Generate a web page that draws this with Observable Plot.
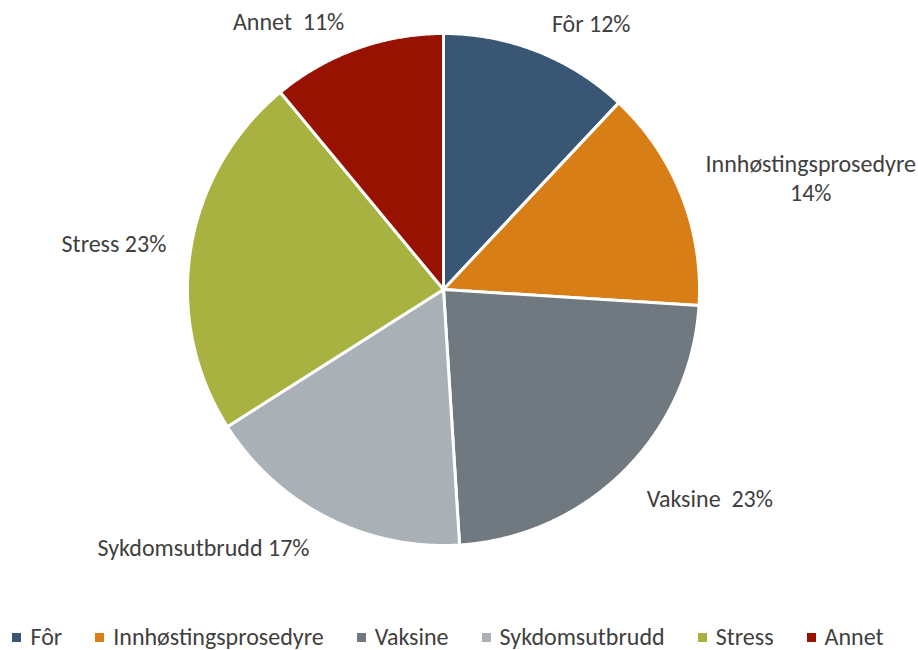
<!DOCTYPE html>
<html><head><meta charset="utf-8">
<script src="https://cdn.jsdelivr.net/npm/d3@7"></script>
<script src="https://cdn.jsdelivr.net/npm/@observablehq/plot@0.6"></script>
<style>
body{margin:0;background:#fff;font-family:Carlito,Calibri,Lato,sans-serif;width:918px;}
svg text{white-space:pre;}
#legend{display:flex;justify-content:center;gap:33px;height:34px;line-height:34px;font-size:24px;color:#404040;padding-right:22px;}
#legend .item{display:flex;align-items:center;white-space:nowrap;}
#legend .sw{width:9px;height:9px;margin-right:9px;display:inline-block;}
</style></head><body><div id="chart"></div><div id="legend"></div>
<script>
const categories = ["Fôr","Innhøstingsprosedyre","Vaksine","Sykdomsutbrudd","Stress","Annet"];
const shares = [12,14,23,17,23,11];
const labels = ["Fôr 12%","Innhøstingsprosedyre\n14%","Vaksine  23%","Sykdomsutbrudd 17%","Stress 23%","Annet  11%"];
const colors = ["#395675","#d77e17","#707880","#a9b0b6","#a7b240","#971200"];
// label layout (angle clockwise from top in degrees, radius as fraction of pie radius)
const labelAngle = [29,73,128,223,278,330];
const labelRadius = [1.19,1.5,1.32,1.375,1.30,1.21];

const total = d3.sum(shares);
const ends = d3.cumsum(shares);
const pts = [];
categories.forEach((name,i)=>{
  const a0 = (ends[i]-shares[i])/total*2*Math.PI, a1 = ends[i]/total*2*Math.PI;
  const n = Math.max(2, Math.ceil((a1-a0)/0.005));
  pts.push({name,x:0,y:0});
  for(let k=0;k<=n;k++){const a=a0+(a1-a0)*k/n; pts.push({name,x:Math.sin(a),y:Math.cos(a)});}
  pts.push({name,x:0,y:0});
});
const labs = categories.map((name,i)=>{
  const a = labelAngle[i]*Math.PI/180;
  return {name,text:labels[i],x:labelRadius[i]*Math.sin(a),y:labelRadius[i]*Math.cos(a)};
});

const chart = Plot.plot({
  width:918,height:620,margin:0,
  style:{fontFamily:"Carlito,Calibri,Lato,sans-serif",background:"#fff"},
  x:{domain:[-1,1],range:[187,699],axis:null},
  y:{domain:[-1,1],range:[545,33],axis:null},
  color:{domain:categories,range:colors},
  marks:[
    Plot.line(pts,{x:"x",y:"y",z:"name",fill:"name",stroke:"white",strokeWidth:3,strokeLinejoin:"round"}),
    Plot.text(labs,{x:"x",y:"y",text:"text",fill:"#404040",fontSize:24,lineHeight:1.2})
  ]
});
document.getElementById("chart").appendChild(chart);
const lg = document.getElementById("legend");
categories.forEach((c,i)=>{
  const it=document.createElement("div");it.className="item";
  const sw=document.createElement("span");sw.className="sw";sw.style.background=colors[i];
  it.appendChild(sw);it.appendChild(document.createTextNode(c));lg.appendChild(it);
});
</script></body></html>
